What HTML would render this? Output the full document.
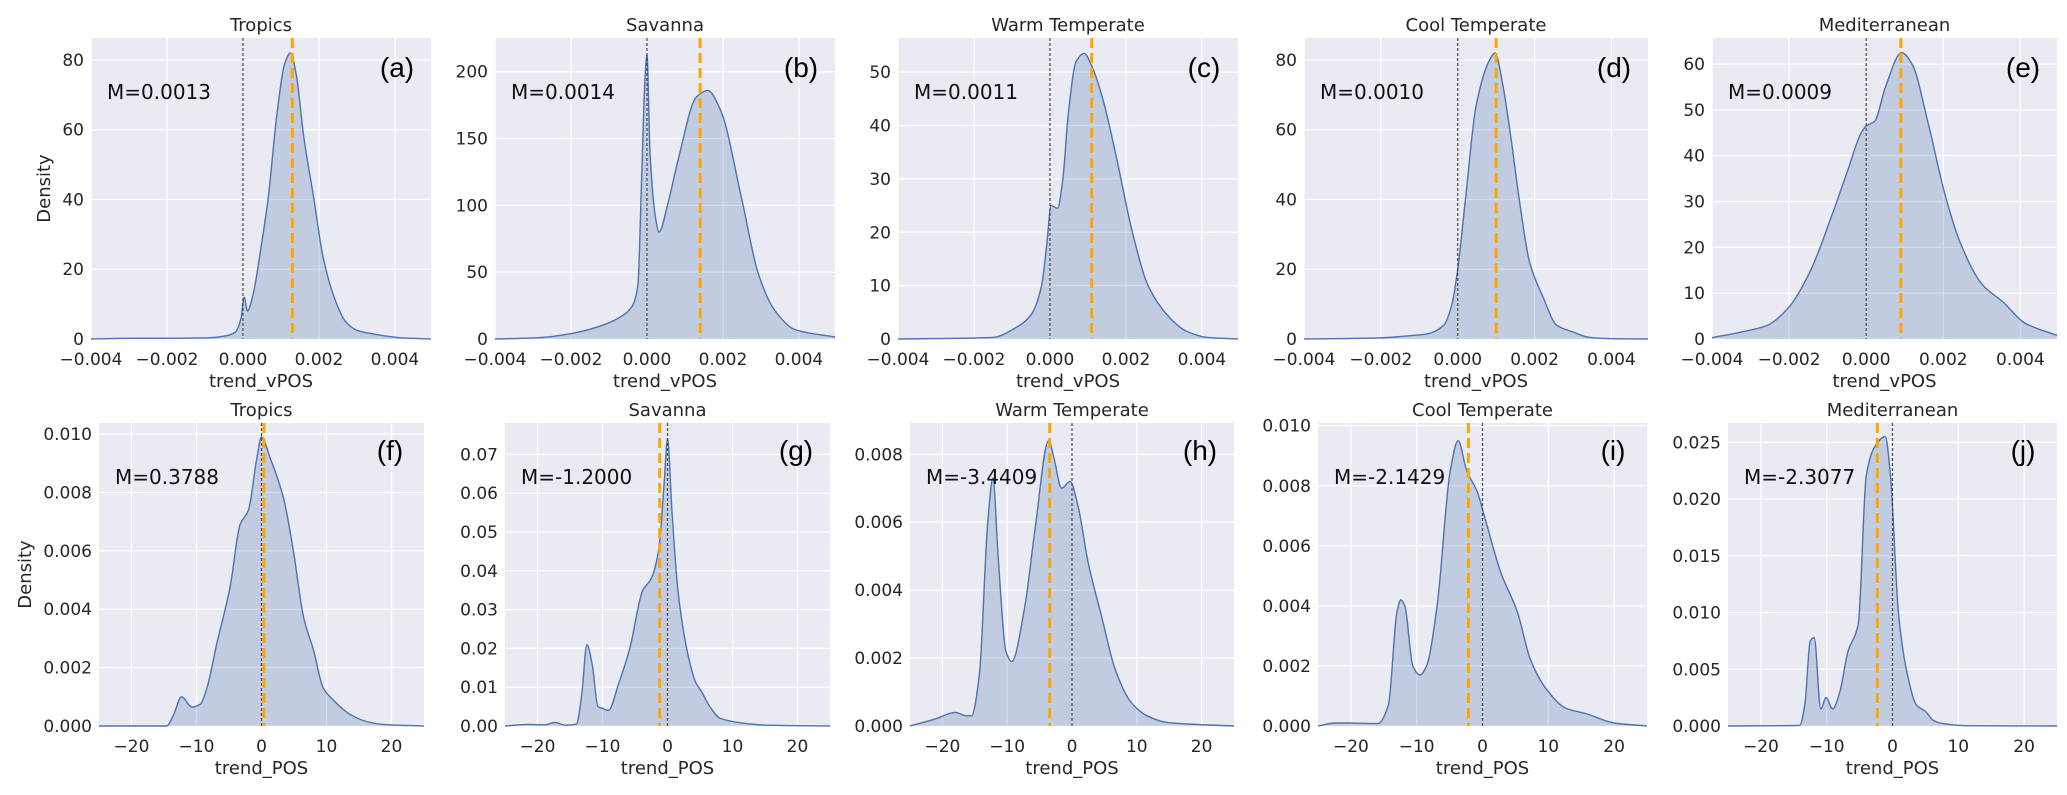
<!DOCTYPE html>
<html><head><meta charset="utf-8"><style>
html,body{margin:0;padding:0;background:#fff;}
svg{display:block;font-family:"DejaVu Sans","Liberation Sans",sans-serif;}
</style></head><body>
<svg id="fig" width="2067" height="795" viewBox="0 0 2067 795"></svg>
<script>
// ---------- data (x in native units, y = density) ----------
const titles = ["Tropics","Savanna","Warm Temperate","Cool Temperate","Mediterranean","Tropics","Savanna","Warm Temperate","Cool Temperate","Mediterranean"];
const letters = ["(a)","(b)","(c)","(d)","(e)","(f)","(g)","(h)","(i)","(j)"];
const medians = [0.0013,0.0014,0.0011,0.0010,0.0009,0.3788,-1.2,-3.4409,-2.1429,-2.3077];
const medianLabels = ["M=0.0013","M=0.0014","M=0.0011","M=0.0010","M=0.0009","M=0.3788","M=-1.2000","M=-3.4409","M=-2.1429","M=-2.3077"];
const yMax = [86.3,225.2,56.4,86.3,65.7,0.01038,0.0781,0.00892,0.01009,0.0267];
const yTicks = [[0,20,40,60,80],[0,50,100,150,200],[0,10,20,30,40,50],[0,20,40,60,80],[0,10,20,30,40,50,60],
  [0,0.002,0.004,0.006,0.008,0.010],[0,0.01,0.02,0.03,0.04,0.05,0.06,0.07],[0,0.002,0.004,0.006,0.008],[0,0.002,0.004,0.006,0.008,0.010],[0,0.005,0.010,0.015,0.020,0.025]];
const yDec = [0,0,0,0,0,3,2,3,3,3];
const xTicksTop = [-0.004,-0.002,0,0.002,0.004];
const xTicksBottom = [-20,-10,0,10,20];

const aX=[-4,-3,-2,-1,-0.5,-0.2,-0.05,0.03,0.12,0.25,0.5,0.66,0.9,1.1,1.25,1.4,1.6,1.87,2.1,2.4,2.7,3.0,3.4,3.8,4.2,4.95];
const aY=[0,0.2,0.2,0.3,0.8,2,6,12,8,12,28,40,65,79,82,76,58,40,24,12,5,2.5,1.5,0.8,0.3,0];
const bX=[-4,-2.85,-2.0,-1.3,-0.73,-0.38,-0.24,-0.14,-0.06,0,0.08,0.23,0.32,0.54,0.82,1.3,1.6,1.94,2.5,2.93,3.35,3.9,4.95];
const bY=[0,1,4,9,16,25,40,120,190,213,140,90,80,100,134,181,186,171,104,49,22,7,1.5];
const cX=[-4,-1.5,-0.93,-0.5,-0.22,-0.08,0.03,0.2,0.34,0.48,0.69,0.9,1.11,1.39,1.75,2.17,2.59,3.15,3.58,4.14,4.95];
const cY=[0,0.3,2,4.5,10,18,25,24.5,30,42,52,53.5,51,45,34,20,9.9,4,1.5,0.3,0];
const dX=[-4,-2.04,-1.2,-0.78,-0.36,-0.15,0,0.2,0.48,0.83,0.97,1.17,1.38,1.6,1.87,2.22,2.57,3.0,3.41,4.0,4.95];
const dY=[0,0.3,1,1.5,4,10,20,40,67,80,82,73,58,40,22,12,4,2,0.5,0.1,0];
const eX=[-4,-3.25,-2.56,-2,-1.44,-0.89,-0.47,-0.13,0,0.22,0.5,0.92,1.19,1.61,2.03,2.44,3.0,3.56,4.11,4.95];
const eY=[0.3,1.5,3,7,15,27,37,45,46.5,47.5,55,62.5,60,47,32,21,12,8,3.5,0.8];
const fX=[-25,-14.6,-13.5,-12.3,-10.7,-9.4,-8.4,-6.9,-4.8,-3.3,-2.0,-0.7,0,1.3,3.4,4.9,6.5,8,9.5,11,13.6,16.2,18.8,25];
const fY=[0,0,0.0004,0.001,0.00065,0.00075,0.0013,0.0028,0.0048,0.0069,0.0074,0.0092,0.0099,0.0092,0.0078,0.006,0.0037,0.0026,0.0013,0.0009,0.0004,0.00015,0.00005,0];
const gX=[-25,-21.4,-18.9,-17.3,-15.7,-14,-13.2,-12.4,-11.6,-10.7,-9.9,-9.1,-7.5,-5.8,-3.8,-2.5,-1.3,-0.5,0,0.7,1.6,3.2,4.4,5.2,6.5,8.1,11.4,15.5,25];
const gY=[0,0.0004,0.0003,0.0009,0.0002,0.0005,0.008,0.021,0.016,0.005,0.0045,0.004,0.011,0.02,0.035,0.038,0.046,0.063,0.074,0.055,0.035,0.018,0.011,0.009,0.005,0.002,0.0008,0.0002,0];
const hX=[-25,-21.2,-18,-16.3,-15.5,-14.3,-13,-12.2,-11.4,-10.2,-9.3,-7.3,-5.7,-3.6,-2.8,-1.6,-0.3,0.9,2.5,4.6,6.6,9.1,11.6,14.8,25];
const hY=[0,0.0002,0.0004,0.0003,0.0003,0.0015,0.006,0.0073,0.005,0.0022,0.0019,0.0035,0.0058,0.0084,0.0079,0.007,0.0072,0.0065,0.0048,0.0032,0.0017,0.0007,0.0003,0.0001,0];
const iX=[-25,-22.4,-20.8,-15.9,-14.3,-13,-12.4,-11.8,-10.6,-9.5,-8.5,-6.9,-4.9,-3.7,-2.4,-0.8,0.4,2.8,5.3,7.3,9.8,12.6,15.9,20,25];
const iY=[0,0.0001,0.0001,0.00008,0.0007,0.0038,0.0042,0.004,0.002,0.0017,0.002,0.004,0.0085,0.0095,0.0085,0.0078,0.0069,0.0051,0.0038,0.0022,0.0012,0.0006,0.0004,0.0001,0];
const jX=[-25,-14.1,-13.3,-12.5,-11.9,-10.9,-10.1,-9.1,-8,-6.8,-5.2,-4,-2.8,-1.1,-0.3,0.9,2.1,3.7,5,6.2,7.8,11,25];
const jY=[0,0.00005,0.002,0.0075,0.0078,0.0015,0.0025,0.0015,0.003,0.0065,0.009,0.022,0.0245,0.0255,0.022,0.01,0.005,0.0018,0.0013,0.0005,0.0002,0.00003,0];

const seriesX=[aX,bX,cX,dX,eX,fX,gX,hX,iX,jX];
const seriesY=[aY,bY,cY,dY,eY,fY,gY,hY,iY,jY];

const lefts=[91,495,898,1304,1712,99,505,910,1318,1728];
const rights=[431,835,1238,1648,2057,424,830,1234,1647,2057];
const NS="http://www.w3.org/2000/svg";
const svg=document.getElementById('fig');
function el(tag,attrs,parent){const e=document.createElementNS(NS,tag);for(const k in attrs)e.setAttribute(k,attrs[k]);(parent||svg).appendChild(e);return e;}
function fmt(v,d){let s=Math.abs(v).toFixed(d);return (v<0?"\u2212":"")+s;}

function monotonePath(px,py){
  const n=px.length;const d=[],m=new Array(n);
  for(let i=0;i<n-1;i++)d.push((py[i+1]-py[i])/(px[i+1]-px[i]));
  m[0]=d[0];m[n-1]=d[n-2];
  for(let i=1;i<n-1;i++){ if(d[i-1]*d[i]<=0)m[i]=0; else {const w1=2*(px[i+1]-px[i])+(px[i]-px[i-1]),w2=(px[i+1]-px[i])+2*(px[i]-px[i-1]);m[i]=(w1+w2)/(w1/d[i-1]+w2/d[i]);} }
  let s="M"+px[0].toFixed(2)+","+py[0].toFixed(2);
  for(let i=0;i<n-1;i++){const h=px[i+1]-px[i];
    s+=" C"+(px[i]+h/3).toFixed(2)+","+(py[i]+m[i]*h/3).toFixed(2)+" "+(px[i+1]-h/3).toFixed(2)+","+(py[i+1]-m[i+1]*h/3).toFixed(2)+" "+px[i+1].toFixed(2)+","+py[i+1].toFixed(2);}
  return s;
}

for(let p=0;p<10;p++){
  const top=p<5?38:423, bottom=p<5?339:726;
  const L=lefts[p],R=rights[p];
  const xmin=p<5?-0.004:-25, xmax=p<5?0.00495:25;
  const xs=v=>L+(v-xmin)/(xmax-xmin)*(R-L);
  const ys=v=>bottom-v/yMax[p]*(bottom-top);
  const g=el('g',{});
  
  
  const bg=el('rect',{x:L,y:top,width:R-L,height:bottom-top,fill:'#eaeaf2'},g);
  
  
  const xt=p<5?xTicksTop:xTicksBottom;
  xt.forEach(t=>{const X=xs(t);
    const gl=el('line',{x1:X,x2:X,y1:top,y2:bottom,stroke:'#fff','stroke-width':1.3},g);
    
    
    const tl=el('text',{x:X,y:(p<5?365:752),'text-anchor':'middle','font-size':17,fill:'#262626'},g);
    tl.textContent=p<5?fmt(t,3):fmt(t,0);
    
    
  });
  yTicks[p].forEach(t=>{const Y=ys(t);
    const gl=el('line',{x1:L,x2:R,y1:Y,y2:Y,stroke:'#fff','stroke-width':1.3},g);
    
    
    const tl=el('text',{x:L-7,y:Y+6,'text-anchor':'end','font-size':17,fill:'#262626'},g);
    tl.textContent=fmt(t,yDec[p]);
    
    
  });
  const px=seriesX[p].map(v=>xs(p<5?v/1000:v)), py=seriesY[p].map(v=>ys(v));
  const d=monotonePath(px,py);
  const fill=el('path',{d:d+" L"+px[px.length-1]+","+bottom+" L"+px[0]+","+bottom+" Z",fill:'#4c72b0','fill-opacity':0.25,stroke:'none'},g);
  
  
  const line=el('path',{d:d,fill:'none',stroke:'#4c72b0','stroke-width':1.4},g);
  
  
  const z=el('line',{x1:xs(0),x2:xs(0),y1:top,y2:bottom,stroke:'#444','stroke-width':1.2,'stroke-dasharray':'3,2'},g);
  
  
  const mx=xs(medians[p]);
  const ml=el('line',{x1:mx,x2:mx,y1:top,y2:bottom,stroke:'#ffa500','stroke-width':3,'stroke-dasharray':'10,5'},g);
  
  
  const mt=el('text',{x:L+16,y:top+61,'font-size':20,fill:'#111'},g);
  mt.textContent=medianLabels[p];
  
  
  const lt=el('text',{x:R-34,y:top+(p<5?39:37),'text-anchor':'middle','font-size':28,fill:'#000','font-family':'Liberation Sans, sans-serif'},g);
  lt.textContent=letters[p];
  
  
  const tt=el('text',{x:(L+R)/2,y:top-7,'text-anchor':'middle','font-size':18,fill:'#262626'},g);
  tt.textContent=titles[p];
  
  
  const xl=el('text',{x:(L+R)/2,y:(p<5?387:774),'text-anchor':'middle','font-size':18,fill:'#262626'},g);
  xl.textContent=p<5?'trend_vPOS':'trend_POS';
  
  
  if(p===0||p===5){
    const cy=(top+bottom)/2, cx=p===0?50:31;
    const yl=el('text',{x:cx,y:cy,'text-anchor':'middle','font-size':18,fill:'#262626',transform:'rotate(-90 '+cx+' '+cy+')'},g);
    yl.textContent='Density';
    
    
  }
}
</script>
</body></html>
